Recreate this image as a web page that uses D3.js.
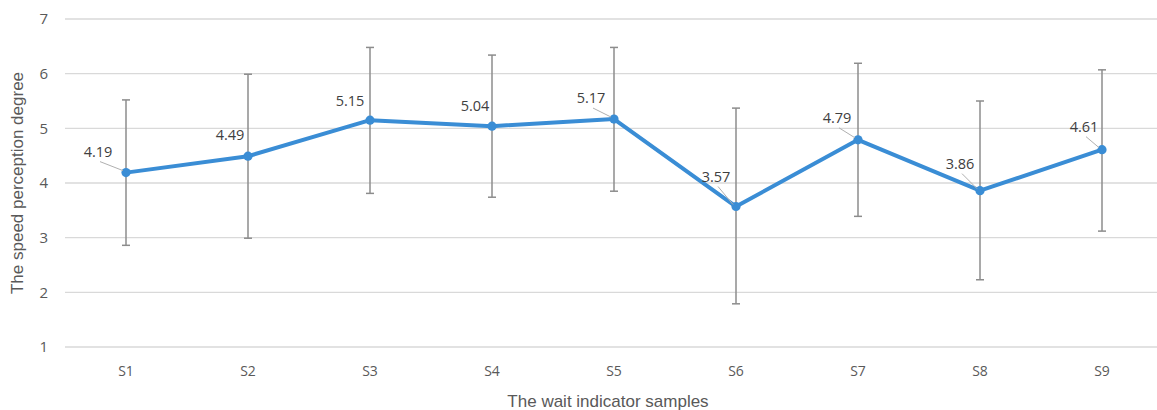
<!DOCTYPE html>
<html>
<head>
<meta charset="utf-8">
<script src="https://cdn.jsdelivr.net/npm/d3@7"></script>
<style>
  html, body { margin: 0; padding: 0; background: #fff; }
  svg { display: block; }
  .tick-label { font-family: "Open Sans", "Noto Sans", sans-serif; font-size: 14px; fill: #595959; }
  .axis-title { font-family: "Liberation Sans", Arial, sans-serif; font-size: 17px; fill: #595959; }
  .value-label { font-family: "Open Sans", "Noto Sans", sans-serif; font-size: 14.5px; fill: #404040; }
</style>
</head>
<body>
<div id="chart"></div>
<script>
// samples on the x axis
const SAMPLES = ["S1", "S2", "S3", "S4", "S5", "S6", "S7", "S8", "S9"];
// mean speed perception per sample
const MEANS = [4.19, 4.49, 5.15, 5.04, 5.17, 3.57, 4.79, 3.86, 4.61];
// error bar ends
const ERR_HIGH = [5.52, 5.99, 6.48, 6.34, 6.48, 5.37, 6.19, 5.50, 6.07];
const ERR_LOW  = [2.86, 2.99, 3.81, 3.74, 3.85, 1.79, 3.39, 2.23, 3.12];
const Y_TICKS = [1, 2, 3, 4, 5, 6, 7];

// label nudges (px) and which labels have a leader line
const LABEL_NUDGE = [[-28, -21], [-18, -21], [-20, -19], [-17, -20], [-23, -21],
                     [-20, -30], [-21, -22], [-20, -27], [-18, -23]];
const LEADER = [true, false, false, false, true, true, true, true, true];

const W = 1157, H = 410;

const svg = d3.select("#chart").append("svg")
    .attr("width", W).attr("height", H);

const x = d3.scaleBand().domain(SAMPLES).range([65, 1163]).padding(0);
const y = d3.scaleLinear().domain([1, 7]).range([347, 19]);
const cx = s => x(s) + x.bandwidth() / 2;

// horizontal gridlines
svg.append("g").selectAll("line").data(Y_TICKS).join("line")
    .attr("x1", 65).attr("x2", W)
    .attr("y1", d => y(d)).attr("y2", d => y(d))
    .attr("stroke", "#d9d9d9").attr("stroke-width", 1.3);

// y tick labels
svg.append("g").selectAll("text").data(Y_TICKS).join("text")
    .attr("class", "tick-label")
    .attr("x", 48).attr("y", d => y(d)).attr("dy", "0.36em")
    .attr("text-anchor", "end").style("font-size", "15px")
    .text(d => d);

// x tick labels
svg.append("g").selectAll("text").data(SAMPLES).join("text")
    .attr("class", "tick-label")
    .attr("x", d => cx(d)).attr("y", 376)
    .attr("text-anchor", "middle")
    .text(d => d);

// axis titles
svg.append("text").attr("class", "axis-title")
    .attr("transform", `translate(23,${(y(1) + y(7)) / 2}) rotate(-90)`)
    .attr("text-anchor", "middle")
    .text("The speed perception degree");
svg.append("text").attr("class", "axis-title")
    .attr("x", 608).attr("y", 407)
    .attr("text-anchor", "middle")
    .text("The wait indicator samples");

// error bars
const rows = SAMPLES.map((s, i) => ({ s, i, m: MEANS[i], hi: ERR_HIGH[i], lo: ERR_LOW[i] }));
const eb = svg.append("g").attr("stroke", "#8c8c8c").attr("stroke-width", 1.5);
eb.selectAll(".stem").data(rows).join("line")
    .attr("x1", d => cx(d.s)).attr("x2", d => cx(d.s))
    .attr("y1", d => y(d.hi)).attr("y2", d => y(d.lo));
eb.selectAll(".capHi").data(rows).join("line")
    .attr("x1", d => cx(d.s) - 4).attr("x2", d => cx(d.s) + 4)
    .attr("y1", d => y(d.hi)).attr("y2", d => y(d.hi));
eb.selectAll(".capLo").data(rows).join("line")
    .attr("x1", d => cx(d.s) - 4).attr("x2", d => cx(d.s) + 4)
    .attr("y1", d => y(d.lo)).attr("y2", d => y(d.lo));

// mean line + markers
const line = d3.line().x(d => cx(d.s)).y(d => y(d.m));
svg.append("path").datum(rows)
    .attr("d", line).attr("fill", "none")
    .attr("stroke", "#3a8dd5").attr("stroke-width", 4)
    .attr("stroke-linejoin", "round");
svg.append("g").selectAll("circle").data(rows).join("circle")
    .attr("cx", d => cx(d.s)).attr("cy", d => y(d.m)).attr("r", 4.6)
    .attr("fill", "#3a8dd5");

// leader lines + value labels
svg.append("g").selectAll("line").data(rows.filter(d => LEADER[d.i])).join("line")
    .attr("x1", d => cx(d.s) + LABEL_NUDGE[d.i][0] + 2)
    .attr("y1", d => y(d.m) + LABEL_NUDGE[d.i][1] + 10)
    .attr("x2", d => cx(d.s) - 3).attr("y2", d => y(d.m) - 2)
    .attr("stroke", "#b0b0b0").attr("stroke-width", 1);
svg.append("g").selectAll("text").data(rows).join("text")
    .attr("class", "value-label")
    .attr("x", d => cx(d.s) + LABEL_NUDGE[d.i][0])
    .attr("y", d => y(d.m) + LABEL_NUDGE[d.i][1])
    .attr("dy", "0.35em").attr("text-anchor", "middle")
    .text(d => d.m.toFixed(2));
</script>
</body>
</html>
